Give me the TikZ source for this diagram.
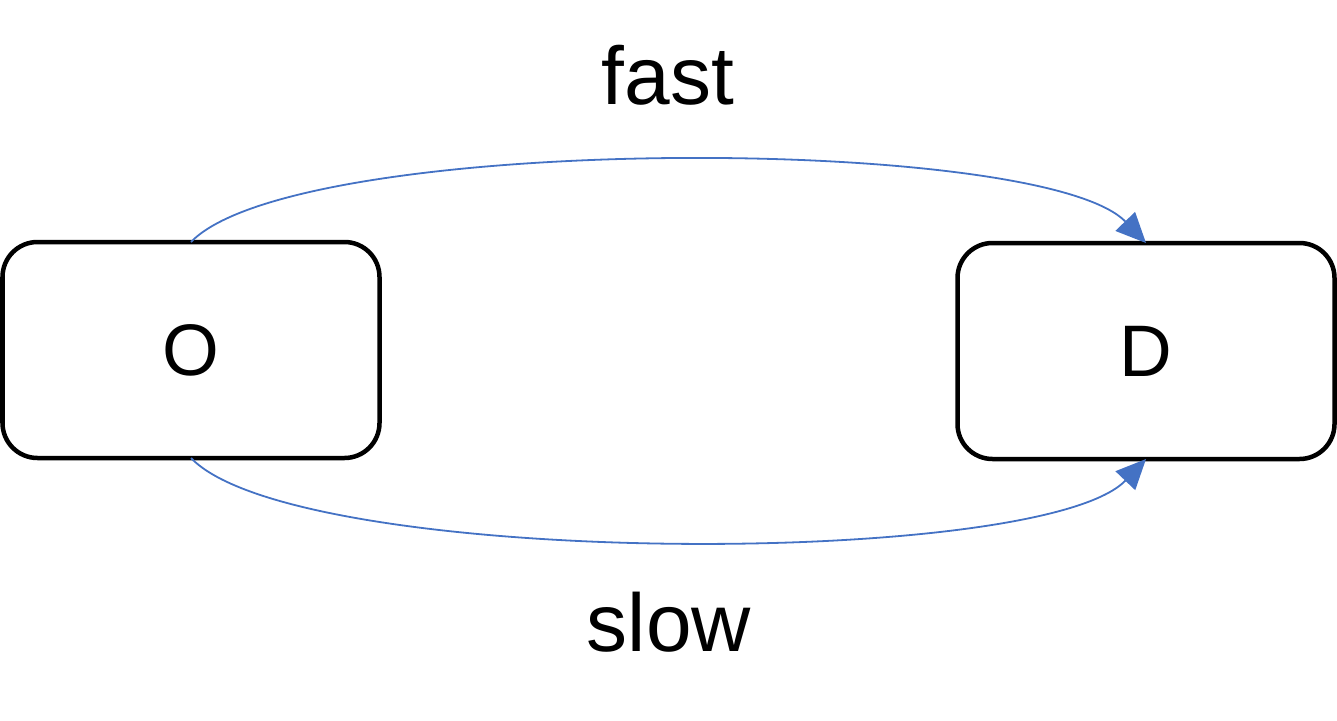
\documentclass[tikz,border=0pt]{standalone}
\usepackage{fontspec}
\setmainfont{Liberation Sans}
\usetikzlibrary{arrows.meta}
\definecolor{linkblue}{HTML}{4472C4}
\tikzset{
  statebox/.style={draw=black, line width=4.5pt, rounded corners=35pt, minimum width=377pt, minimum height=216pt, outer sep=0pt, inner sep=0pt, font=\fontsize{73}{80}\selectfont},
  edgelabel/.style={font=\fontsize{82}{90}\selectfont, anchor=base, inner sep=0pt},
  link/.style={draw=linkblue, line width=1.8pt, -{Triangle[length=30pt,width=27pt]}}
}
\begin{document}
\begin{tikzpicture}[x=1pt,y=-1pt]
\useasboundingbox (0,0) rectangle (1337,720);
\node[statebox] (O) at (191,350) {O};
\node[statebox] (D) at (1146,351) {D};
\node[edgelabel] (fast) at (668,104) {fast};
\node[edgelabel] (slow) at (669,651) {slow};
\draw[link] (O.north) .. controls +(105,-109) and +(-105,-109) .. (D.north);
\draw[link] (O.south) .. controls +(105,110) and +(-105,110) .. (D.south);
\end{tikzpicture}
\end{document}
